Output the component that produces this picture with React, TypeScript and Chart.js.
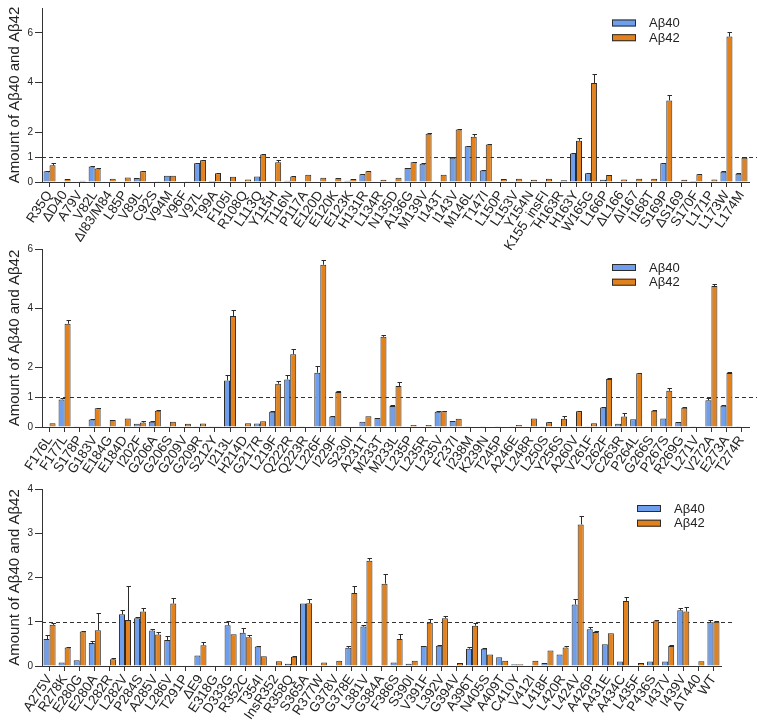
import React, { useEffect, useRef } from 'react';
import { Chart, registerables } from 'chart.js';

Chart.register(...registerables);

const FONT = "'Liberation Sans', Arial, Helvetica, sans-serif";
const BLUE = '#6e9eec';
const ORANGE = '#e2821f';
const EDGE = '#2b2b2b';
const SERIES = ['Aβ40', 'Aβ42'];
const Y_TITLE = 'Amount of Aβ40 and Aβ42';

// ---------- Panel 1 ----------
const labels1 = ['R35Q', 'ΔD40', 'A79V', 'V82L', 'ΔI83/M84', 'L85P', 'V89L', 'C92S', 'V94M', 'V96F', 'V97L', 'T99A', 'F105I', 'R108Q', 'L113Q', 'Y115H', 'T116N', 'P117A', 'E120D', 'E120K', 'E123K', 'H131R', 'L134R', 'N135D', 'A136G', 'M139V', 'I143T', 'I143V', 'M146L', 'T147I', 'L150P', 'L153V', 'Y154N', 'K155_insFI', 'H163R', 'H163Y', 'W165G', 'L166P', 'ΔL166', 'ΔI167', 'I168T', 'S169P', 'ΔS169', 'S170F', 'L171P', 'L173W', 'L174M'];
const ab40_1 = [0.43, 0, 0, 0.62, 0, 0, 0.16, 0, 0.25, 0, 0.75, 0.04, 0, 0, 0.22, 0.03, 0.05, 0.02, 0, 0.02, 0.05, 0.31, 0, 0.01, 0.56, 0.73, 0, 0.98, 1.44, 0.46, 0, 0, 0, 0, 0, 1.15, 0.35, 0.09, 0, 0, 0, 0.75, 0, 0.04, 0, 0.41, 0.33];
const ab42_1 = [0.67, 0.12, 0.05, 0.54, 0.13, 0.18, 0.43, 0.03, 0.25, 0.03, 0.88, 0.35, 0.21, 0.1, 1.11, 0.79, 0.22, 0.29, 0.17, 0.16, 0.12, 0.43, 0.09, 0.17, 0.79, 1.94, 0.29, 2.11, 1.82, 1.51, 0.12, 0.13, 0.09, 0.13, 0.07, 1.66, 3.98, 0.28, 0.1, 0.13, 0.13, 3.28, 0.09, 0.31, 0.1, 5.85, 0.98];
const err40_1 = [0.02, 0, 0, 0.02, 0, 0, 0, 0, 0, 0, 0.02, 0, 0, 0, 0, 0, 0, 0, 0, 0, 0, 0.02, 0, 0, 0.02, 0.02, 0, 0.02, 0.02, 0.02, 0, 0, 0, 0, 0, 0.02, 0.02, 0, 0, 0, 0, 0.02, 0, 0, 0, 0.02, 0.02];
const err42_1 = [0.1, 0, 0, 0.02, 0, 0, 0.02, 0, 0, 0, 0.02, 0.02, 0, 0, 0.02, 0.09, 0.02, 0, 0, 0, 0, 0.02, 0, 0, 0.02, 0.03, 0, 0.02, 0.12, 0.03, 0, 0, 0, 0, 0, 0.1, 0.38, 0.02, 0, 0, 0, 0.24, 0, 0.02, 0, 0.2, 0.04];
const yTicks1 = [0, 1, 2, 4, 6];
const yMax1 = 7;

// ---------- Panel 2 ----------
const labels2 = ['F176L', 'F177L', 'S178P', 'G183V', 'E184G', 'E184D', 'I202F', 'G206A', 'G206S', 'G209V', 'G209R', 'S212Y', 'I213L', 'H214D', 'G217R', 'L219F', 'Q222R', 'Q223R', 'L226F', 'I229F', 'S230I', 'A231T', 'M233T', 'M233L', 'L235P', 'L235R', 'L235V', 'F237I', 'I238M', 'K239N', 'T245P', 'A246E', 'L248R', 'L250S', 'Y256S', 'A260V', 'V261F', 'L262F', 'C263R', 'P264L', 'G266S', 'P267S', 'R269G', 'L271V', 'V272A', 'E273A', 'T274R'];
const ab40_2 = [0, 0.93, 0.01, 0.25, 0.02, 0.01, 0.11, 0.18, 0.01, 0, 0.01, 0.01, 1.57, 0.02, 0.12, 0.51, 1.6, 0.01, 1.83, 0.35, 0.02, 0.18, 0.3, 0.71, 0, 0, 0.51, 0.2, 0.01, 0.01, 0.01, 0.01, 0, 0.01, 0, 0, 0.01, 0.66, 0.11, 0.26, 0.02, 0.29, 0.17, 0.01, 0.9, 0.72, 0.01];
const ab42_2 = [0.13, 3.48, 0, 0.63, 0.24, 0.29, 0.15, 0.55, 0.18, 0.11, 0.12, 0.01, 3.74, 0.13, 0.19, 1.46, 2.45, 0, 5.47, 1.18, 0, 0.36, 3.04, 1.38, 0.07, 0.07, 0.53, 0.28, 0, 0, 0, 0.07, 0.29, 0.16, 0.28, 0.53, 0.13, 1.62, 0.35, 1.81, 0.55, 1.22, 0.65, 0, 4.75, 1.82, 0];
const err40_2 = [0, 0.04, 0, 0.02, 0, 0, 0, 0.02, 0, 0, 0, 0, 0.17, 0, 0, 0.02, 0.15, 0, 0.21, 0.02, 0, 0, 0, 0.02, 0, 0, 0.02, 0, 0, 0, 0, 0, 0, 0, 0, 0, 0, 0.02, 0, 0, 0, 0, 0, 0, 0.09, 0.03, 0];
const err42_2 = [0, 0.13, 0, 0.02, 0, 0, 0.05, 0.02, 0, 0, 0, 0, 0.21, 0, 0, 0.1, 0.17, 0, 0.16, 0.02, 0, 0, 0.07, 0.15, 0, 0, 0.02, 0, 0, 0, 0, 0, 0, 0.02, 0.1, 0.02, 0, 0.02, 0.11, 0.02, 0.02, 0.08, 0.02, 0, 0.08, 0.02, 0];
const yTicks2 = [0, 1, 2, 4, 6];
const yMax2 = 6;

// ---------- Panel 3 ----------
const labels3 = ['A275V', 'R278K', 'E280G', 'E280A', 'L282R', 'L282V', 'P284S', 'A285V', 'L286V', 'T291P', 'ΔE9', 'E318G', 'D333G', 'R352C', 'T354I', 'InsR352', 'R358Q', 'S365A', 'R377W', 'G378V', 'G378E', 'L381V', 'G384A', 'F386S', 'S390I', 'V391F', 'L392V', 'G394V', 'A396T', 'N405S', 'A409T', 'C410Y', 'V412I', 'L418F', 'L420R', 'L424V', 'A426P', 'A431E', 'A434C', 'L435F', 'P436S', 'I437V', 'I439V', 'ΔT440', 'WT'];
const ab40_3 = [0.61, 0.08, 0.13, 0.52, 0, 1.17, 1.08, 0.8, 0.59, 0.01, 0.24, 0.01, 0.92, 0.75, 0.44, 0, 0.05, 1.41, 0.01, 0.01, 0.41, 0.89, 0.01, 0.08, 0.05, 0.45, 0.46, 0, 0.39, 0.39, 0.2, 0.04, 0, 0.07, 0.26, 1.39, 0.83, 0.49, 0.1, 0, 0.1, 0.1, 1.26, 0, 0.99];
const ab42_3 = [0.93, 0.42, 0.78, 0.81, 0.15, 1.04, 1.23, 0.71, 1.41, 0, 0.47, 0, 0.72, 0.65, 0.22, 0.11, 0.21, 1.42, 0.08, 0.12, 1.65, 2.38, 1.86, 0.61, 0.12, 0.98, 1.08, 0.07, 0.91, 0.26, 0.12, 0.04, 0.12, 0.35, 0.42, 3.2, 0.77, 0.74, 1.47, 0.07, 1.01, 0.45, 1.23, 0.11, 1.0];
const err40_3 = [0.09, 0, 0, 0.04, 0, 0.1, 0.03, 0.04, 0.08, 0, 0, 0, 0.09, 0.1, 0.02, 0, 0, 0, 0, 0, 0.04, 0.04, 0, 0, 0, 0, 0.02, 0, 0.05, 0.02, 0, 0, 0, 0, 0, 0.13, 0.05, 0, 0, 0, 0, 0, 0.05, 0, 0.05];
const err42_3 = [0.05, 0.01, 0.01, 0.38, 0.04, 0.77, 0.07, 0.05, 0.13, 0, 0.08, 0, 0, 0.05, 0, 0, 0.02, 0.1, 0, 0, 0.16, 0.07, 0.22, 0.12, 0, 0.09, 0.04, 0, 0.07, 0, 0, 0, 0, 0, 0.03, 0.18, 0.03, 0, 0.09, 0, 0.02, 0.02, 0.1, 0, 0.02];
const yTicks3 = [0, 1, 2, 3, 4];
const yMax3 = 4;

const REF_VALUE = 1;

const errorBarPlugin = {
  id: 'errorBars',
  afterDatasetsDraw(chart: any) {
    const { ctx } = chart;
    const ys = chart.scales.y;
    ctx.save();
    ctx.strokeStyle = EDGE;
    ctx.lineWidth = 1;
    chart.data.datasets.forEach((ds: any, di: number) => {
      const errs = ds.errors;
      if (!errs) return;
      const meta = chart.getDatasetMeta(di);
      meta.data.forEach((bar: any, i: number) => {
        const e = errs[i];
        if (!e) return;
        const v = ds.data[i];
        const x = Math.round(bar.x) + 0.5;
        const y0 = ys.getPixelForValue(v);
        const y1 = Math.round(ys.getPixelForValue(v + e)) + 0.5;
        ctx.beginPath();
        ctx.moveTo(x, y0);
        ctx.lineTo(x, y1);
        ctx.moveTo(x - 2, y1);
        ctx.lineTo(x + 2.5, y1);
        ctx.stroke();
      });
    });
    ctx.restore();
  },
};

const refLinePlugin = {
  id: 'refLine',
  beforeDatasetsDraw(chart: any, _args: any, opts: any) {
    const { ctx, chartArea } = chart;
    const y = Math.round(chart.scales.y.getPixelForValue(REF_VALUE)) + 0.5;
    ctx.save();
    ctx.strokeStyle = '#333';
    ctx.lineWidth = 1;
    ctx.setLineDash([4, 3]);
    ctx.beginPath();
    ctx.moveTo(chartArea.left, y);
    ctx.lineTo(chartArea.right + (opts.extend || 0), y);
    ctx.stroke();
    ctx.restore();
  },
};

const boxLegendPlugin = {
  id: 'boxLegend',
  afterDraw(chart: any, _args: any, opts: any) {
    const { ctx } = chart;
    ctx.save();
    chart.data.datasets.forEach((ds: any, i: number) => {
      const bx = opts.x;
      const by = opts.y + i * 14.7;
      ctx.fillStyle = ds.backgroundColor;
      ctx.fillRect(bx, by, 24, 7);
      ctx.strokeStyle = EDGE;
      ctx.lineWidth = 1;
      ctx.strokeRect(bx + 0.5, by + 0.5, 23, 6);
      ctx.fillStyle = '#222';
      ctx.font = `13px ${FONT}`;
      ctx.textBaseline = 'middle';
      ctx.textAlign = 'left';
      ctx.fillText(ds.label, bx + 37, by + 4);
    });
    ctx.restore();
  },
};

type PanelProps = {
  top: number;
  height: number;
  padTop: number;
  padRight: number;
  xHeight: number;
  labels: string[];
  a40: number[];
  a42: number[];
  e40: number[];
  e42: number[];
  yMax: number;
  yTicks: number[];
  legendX: number;
  legendY: number;
  refExtend: number;
};

function Panel(p: PanelProps) {
  const ref = useRef<HTMLCanvasElement | null>(null);
  useEffect(() => {
    if (!ref.current) return;
    const chart = new Chart(ref.current, {
      type: 'bar',
      data: {
        labels: p.labels,
        datasets: [
          {
            label: SERIES[0],
            data: p.a40,
            errors: p.e40,
            backgroundColor: BLUE,
            borderColor: EDGE,
            borderWidth: 1,
            barPercentage: 1,
            categoryPercentage: 0.8,
          } as any,
          {
            label: SERIES[1],
            data: p.a42,
            errors: p.e42,
            backgroundColor: ORANGE,
            borderColor: EDGE,
            borderWidth: 1,
            barPercentage: 1,
            categoryPercentage: 0.8,
          } as any,
        ],
      },
      options: {
        responsive: false,
        animation: false,
        devicePixelRatio: 1,
        layout: { padding: { top: p.padTop, right: p.padRight, left: 0, bottom: 0 } },
        plugins: {
          legend: { display: false },
          tooltip: { enabled: false },
          boxLegend: { x: p.legendX, y: p.legendY },
          refLine: { extend: p.refExtend },
        } as any,
        scales: {
          x: {
            type: 'category',
            offset: true,
            grid: {
              display: true,
              drawOnChartArea: false,
              drawTicks: true,
              tickLength: 5,
              offset: false,
              color: '#333',
            },
            border: { display: true, color: '#333', width: 1 },
            ticks: {
              autoSkip: false,
              minRotation: 56,
              maxRotation: 56,
              padding: 1,
              color: '#222',
              font: { family: FONT, size: 13.5 },
            },
            afterFit: (s: any) => {
              s.height = p.xHeight;
            },
          },
          y: {
            min: 0,
            max: p.yMax,
            afterBuildTicks: (s: any) => {
              s.ticks = p.yTicks.map((v) => ({ value: v }));
            },
            grid: {
              drawOnChartArea: false,
              drawTicks: true,
              tickLength: 7,
              color: '#333',
            },
            border: { display: true, color: '#333', width: 1 },
            ticks: {
              padding: 2,
              color: '#222',
              font: { family: FONT, size: 10 },
            },
            title: {
              display: true,
              text: Y_TITLE,
              color: '#222',
              font: { family: FONT, size: 15 },
              padding: { top: 6, bottom: 0 },
            },
            afterFit: (s: any) => {
              s.width = 42;
            },
          },
        } as any,
      },
      plugins: [refLinePlugin, errorBarPlugin, boxLegendPlugin],
    });
    return () => chart.destroy();
  }, []);
  return (
    <div style={{ position: 'absolute', left: 0, top: p.top, width: 757, height: p.height }}>
      <canvas ref={ref} width={757} height={p.height} style={{ display: 'block' }} />
    </div>
  );
}

export default function App() {
  return (
    <div
      style={{
        position: 'absolute',
        left: 0,
        top: 0,
        width: 757,
        height: 722,
        background: '#fff',
        overflow: 'hidden',
      }}
    >
      <Panel
        top={0}
        height={250}
        padTop={3}
        padRight={8}
        xHeight={68}
        labels={labels1}
        a40={ab40_1}
        a42={ab42_1}
        e40={err40_1}
        e42={err42_1}
        yMax={yMax1}
        yTicks={yTicks1}
        legendX={612}
        legendY={19.5}
        refExtend={8}
      />
      <Panel
        top={240}
        height={250}
        padTop={9}
        padRight={8}
        xHeight={63}
        labels={labels2}
        a40={ab40_2}
        a42={ab42_2}
        e40={err40_2}
        e42={err42_2}
        yMax={yMax2}
        yTicks={yTicks2}
        legendX={612}
        legendY={24}
        refExtend={8}
      />
      <Panel
        top={480}
        height={242}
        padTop={9}
        padRight={36}
        xHeight={56}
        labels={labels3}
        a40={ab40_3}
        a42={ab42_3}
        e40={err40_3}
        e42={err42_3}
        yMax={yMax3}
        yTicks={yTicks3}
        legendX={637}
        legendY={25}
        refExtend={12}
      />
    </div>
  );
}
